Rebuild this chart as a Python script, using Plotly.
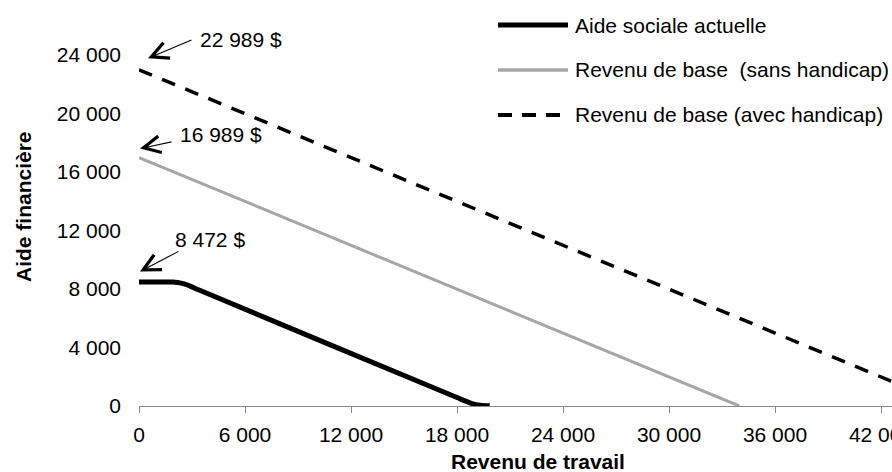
import plotly.graph_objects as go

# ---- data ----
aide_x = [0, 1900, 2400, 2900, 3400, 18000, 18500, 18900, 19300, 19850]
aide_y = [8472, 8472, 8400, 8200, 7930, 580, 330, 150, 50, 10]

sans_x = [0, 33978]
sans_y = [16989, 0]

avec_x = [0, 45978]
avec_y = [22989, 0]

series_names = ["Aide sociale actuelle", "Revenu de base  (sans handicap)", "Revenu de base (avec handicap)"]
labels = ["22 989 $", "16 989 $", "8 472 $"]
x_ticks = [0, 6000, 12000, 18000, 24000, 30000, 36000, 42000]
y_ticks = [0, 4000, 8000, 12000, 16000, 20000, 24000]

FONT = "Liberation Sans, Arial, sans-serif"
W, H = 892, 472
L, R, T, B = 139, 0, 55, 66
PW, PH = W - L - R, H - T - B

def xp(px):
    return (px - L) / PW

def yp(py):
    return (H - B - py) / PH

fig = go.Figure()
fig.add_trace(go.Scatter(x=aide_x, y=aide_y, mode="lines", name=series_names[0],
                         line=dict(color="black", width=5, shape="spline", smoothing=0.8),
                         showlegend=False))
fig.add_trace(go.Scatter(x=sans_x, y=sans_y, mode="lines", name=series_names[1],
                         line=dict(color="#A6A6A6", width=3), showlegend=False))
fig.add_trace(go.Scatter(x=avec_x, y=avec_y, mode="lines", name=series_names[2],
                         line=dict(color="black", width=3.5, dash="14px,11px"), showlegend=False))

annotations = []
starts = [(avec_x[0], avec_y[0]), (sans_x[0], sans_y[0]), (aide_x[0], aide_y[0])]
arrow_cfg = [  # xshift, yshift, ax, ay
    (9, 11.5, 45, -19),
    (1, 9, 33, -7),
    (1, 10.5, 40, -21),
]
text_cfg = [  # xshift, yshift
    (59, 30),
    (39, 23.5),
    (34, 42.5),
]
for (sx, sy), (xs, ys, ax, ay), (txs, tys), lab in zip(starts, arrow_cfg, text_cfg, labels):
    annotations.append(dict(x=sx, y=sy, xref="x", yref="y", text="", showarrow=True,
                            xshift=xs, yshift=ys, ax=ax, ay=ay, arrowhead=5,
                            arrowsize=3.0, arrowwidth=1.1, arrowcolor="black"))
    annotations.append(dict(x=sx, y=sy, xref="x", yref="y", text=lab, showarrow=False,
                            xanchor="left", yanchor="middle", xshift=txs, yshift=tys,
                            font=dict(family=FONT, size=21, color="black")))

# legend (manual)
shapes = []
rows = [25, 70, 115]
styles = [dict(color="black", width=5), dict(color="#A6A6A6", width=3.5),
          dict(color="black", width=4, dash="14px,10px")]
for py, st, name in zip(rows, styles, series_names):
    shapes.append(dict(type="line", xref="paper", yref="paper",
                       x0=xp(498), x1=xp(568), y0=yp(py), y1=yp(py), line=st))
    annotations.append(dict(x=xp(573), y=yp(py), xref="paper", yref="paper", text=name,
                            showarrow=False, xanchor="left", yanchor="middle",
                            font=dict(family=FONT, size=21, color="black")))

# axis titles
annotations.append(dict(x=xp(537.5), y=yp(461.5), xref="paper", yref="paper",
                        text="<b>Revenu de travail</b>", showarrow=False,
                        xanchor="center", yanchor="middle",
                        font=dict(family=FONT, size=21, color="black")))
annotations.append(dict(x=xp(23), y=yp(207), xref="paper", yref="paper",
                        text="<b>Aide financière</b>", showarrow=False, textangle=-90,
                        xanchor="center", yanchor="middle",
                        font=dict(family=FONT, size=21, color="black")))

fig.update_layout(
    width=W, height=H,
    margin=dict(l=L, r=R, t=T, b=B, pad=0, autoexpand=False),
    paper_bgcolor="white", plot_bgcolor="white",
    separators=", ",
    font=dict(family=FONT, size=21, color="black"),
    showlegend=False,
    shapes=shapes,
    annotations=annotations,
    xaxis=dict(range=[0, PW * 6000 / 106], tickvals=x_ticks, tickformat=",d",
               automargin=False,
               showgrid=False, zeroline=False, showline=True, linecolor="#868686",
               linewidth=1, ticks="outside", ticklen=6, tickcolor="#868686",
               ticklabeloverflow="allow",
               tickfont=dict(family=FONT, size=21, color="black"), ticklabelstandoff=4),
    yaxis=dict(range=[0, 24000], tickvals=y_ticks, tickformat=",d",
               automargin=False,
               showgrid=False, zeroline=False, showline=False, ticks="",
               tickfont=dict(family=FONT, size=21, color="black"), ticklabelstandoff=17),
)

fig.write_html("out.html", config={"displayModeBar": False},
               post_script="document.body.style.margin='0';document.body.style.overflow='hidden';")
